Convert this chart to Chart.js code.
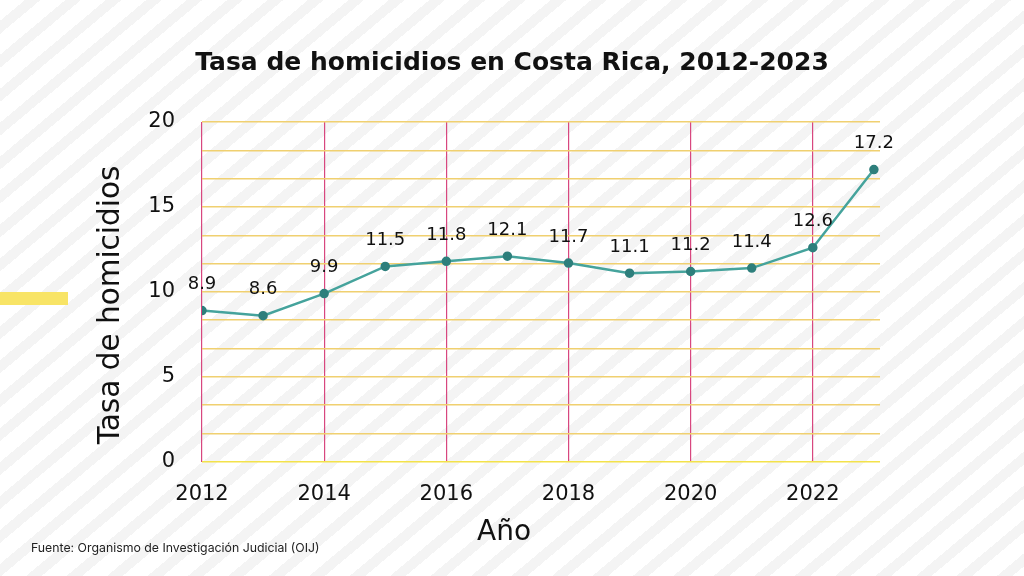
<!DOCTYPE html>
<html>
<head>
<meta charset="utf-8">
<script src="https://cdn.jsdelivr.net/npm/chart.js@4.4.1/dist/chart.umd.min.js"></script>
<style>
  html, body { margin: 0; padding: 0; }
  body {
    width: 1024px; height: 576px; overflow: hidden; position: relative;
    background: repeating-linear-gradient(140deg, #ffffff 0 16px, #f4f4f4 16px 26px);
  }
  #wrap { position: absolute; left: 0; top: 0; width: 1024px; height: 576px; }
  #bar { position: absolute; left: 0; top: 292px; width: 68px; height: 13px; background: #f8e466; }
  #fuente { position: absolute; left: 31px; top: 540px; font: 12.3px Inter, sans-serif; color: #222; }
</style>
</head>
<body>
<div id="bar"></div>
<div id="wrap"><canvas id="chart" width="1024" height="576"></canvas></div>
<div id="fuente">Fuente: Organismo de Investigación Judicial (OIJ)</div>
<script>
// Datos
const years = [2012, 2013, 2014, 2015, 2016, 2017, 2018, 2019, 2020, 2021, 2022, 2023];
const rates = [8.9, 8.6, 9.9, 11.5, 11.8, 12.1, 11.7, 11.1, 11.2, 11.4, 12.6, 17.2];
const xTicks = [2012, 2014, 2016, 2018, 2020, 2022];
const yLabels = [0, 5, 10, 15, 20];
const title = "Tasa de homicidios en Costa Rica, 2012-2023";
const xTitle = "Año";
const yTitle = "Tasa de homicidios";

const FONT = "'DejaVu Sans', sans-serif";

// etiquetas sobre los puntos + títulos
const valueLabels = {
  id: "valueLabels",
  afterDatasetsDraw(chart) {
    const c = chart.ctx;
    const meta = chart.getDatasetMeta(0);
    c.save();
    c.font = "18px " + FONT;
    c.fillStyle = "#111";
    c.textAlign = "center";
    c.textBaseline = "middle";
    meta.data.forEach((pt, i) => {
      c.fillText(rates[i].toFixed(1), pt.x, pt.y - 26);
    });
    c.restore();
  },
  afterDraw(chart) {
    const c = chart.ctx;
    c.save();
    c.fillStyle = "#111";
    c.textAlign = "center";
    c.textBaseline = "middle";
    c.font = "bold 25px " + FONT;
    c.fillText(title, 512, 63);
    c.textBaseline = "alphabetic";
    c.font = "28px " + FONT;
    c.fillText(xTitle, 504, 540);
    c.font = "29.5px " + FONT;
    c.translate(119, 305);
    c.rotate(-Math.PI / 2);
    c.fillText(yTitle, 0, 0);
    c.restore();
  },
};

new Chart(document.getElementById("chart"), {
  type: "line",
  data: {
    datasets: [{
      data: years.map((y, i) => ({ x: y, y: rates[i] })),
      borderColor: "#45a39c",
      borderWidth: 2.5,
      pointBackgroundColor: "#2e7f7c",
      pointBorderColor: "#2e7f7c",
      pointRadius: 3.5,
      tension: 0,
    }],
  },
  options: {
    responsive: false,
    animation: false,
    layout: { padding: { left: 96, right: 144, top: 122, bottom: 49 } },
    plugins: {
      legend: { display: false },
      tooltip: { enabled: false },
      title: { display: false },
    },
    scales: {
      x: {
        type: "linear",
        min: 2012,
        max: 2023.1,
        afterBuildTicks: (s) => { s.ticks = xTicks.map((v) => ({ value: v })); },
        ticks: {
          callback: (v) => String(v),
          color: "#111",
          font: { family: FONT, size: 21 },
          padding: 20,
          maxRotation: 0,
          autoSkip: false,
        },
        grid: { color: "#d8477f", lineWidth: 1.2, drawTicks: false },
        border: { display: false },
      },
      y: {
        min: 0,
        max: 20,
        afterBuildTicks: (s) => {
          const t = [];
          for (let i = 0; i <= 12; i++) t.push({ value: (i * 20) / 12 });
          s.ticks = t;
        },
        afterFit: (s) => { s.width = 106; },
        ticks: {
          callback: (v) => {
            const r = Math.round(v);
            return Math.abs(v - r) < 1e-6 && yLabels.includes(r) ? String(r) : "";
          },
          color: "#111",
          font: { family: FONT, size: 21 },
          padding: 27,
          autoSkip: false,
        },
        grid: {
          color: (ctx) => (ctx.tick && ctx.tick.value === 0 ? "#f3e24a" : "#f0d070"),
          lineWidth: 1.5,
          drawTicks: false,
        },
        border: { display: false },
      },
    },
  },
  plugins: [valueLabels],
});
</script>
</body>
</html>
